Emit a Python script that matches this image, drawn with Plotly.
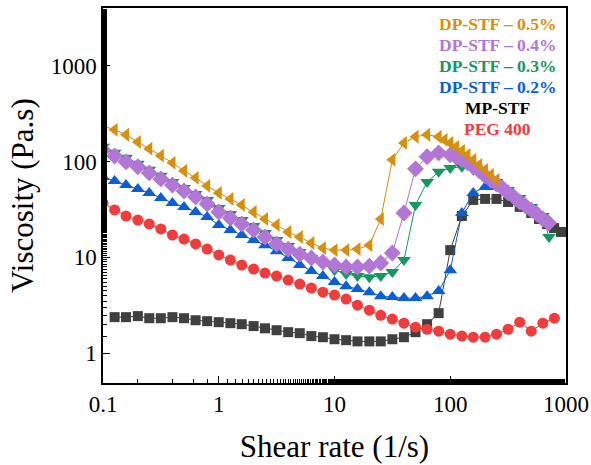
import plotly.graph_objects as go

# Shear rate grid (1/s), 10 points per decade
x_base = [0.1, 0.126, 0.158, 0.2, 0.251, 0.316, 0.398, 0.501, 0.631, 0.794,
          1, 1.26, 1.58, 2.0, 2.51, 3.16, 3.98, 5.01, 6.31, 7.94,
          10, 12.6, 15.8, 20, 25.1, 31.6, 39.8, 50.1, 63.1, 79.4,
          100, 126, 158, 200, 251, 316, 398, 501, 631, 794]

# PEG 400
peg_x = x_base
peg_y = [36.9, 31.2, 27.0, 24.5, 22.3, 19.8, 17.1, 15.5, 13.8, 12.2,
         10.6, 9.37, 8.31, 7.55, 6.85, 6.38, 5.79, 5.26, 4.78, 4.34,
         4.04, 3.67, 3.17, 2.81, 2.49, 2.27, 2.06, 1.87, 1.78, 1.70,
         1.58, 1.51, 1.47, 1.47, 1.58, 1.78, 2.11, 1.70, 2.06, 2.32]

# MP-STF
mp_x = [0.126, 0.158, 0.2, 0.251, 0.316, 0.398, 0.501, 0.631, 0.794,
        1, 1.26, 1.58, 2.0, 2.51, 3.16, 3.98, 5.01, 6.31, 7.94,
        10, 12.6, 15.8, 20, 25.1, 31.6, 39.8, 50.1, 63.1, 79.4,
        100, 126, 158, 200, 251, 316, 398, 501, 585, 686, 789, 906]
mp_y = [2.38, 2.38, 2.44, 2.32, 2.32, 2.38, 2.32, 2.21, 2.16,
        2.11, 2.06, 2.01, 1.92, 1.82, 1.74, 1.66, 1.62, 1.51, 1.47,
        1.40, 1.37, 1.33, 1.33, 1.33, 1.40, 1.47, 1.66, 2.01, 2.62,
        11.9, 27.0, 39.7, 40.7, 40.7, 37.8, 33.6, 29.0, 25.1, 22.3, 20.2, 18.4]

# DP-STF 0.2%
dp2_x = x_base[:36]
dp2_y = [69.0, 62.7, 56.9, 51.7, 47.0, 41.7, 36.9, 33.6, 29.7, 26.4,
         21.8, 19.3, 17.1, 15.2, 13.4, 11.6, 9.84, 8.31, 7.19, 6.38,
         5.52, 5.01, 4.67, 4.34, 3.94, 3.85, 3.76, 3.76, 3.94, 4.45,
         7.36, 29.0, 47.0, 54.3, 54.3, 47.0]

# DP-STF 0.3%
dp3_x = x_base[:39] + [713]
dp3_y = [142, 123, 109, 94.4, 81.7, 70.8, 61.2, 53.0, 45.9, 39.7,
         32.8, 28.3, 24.5, 21.2, 17.9, 15.2, 13.1, 11.4, 9.84, 8.51,
         7.36, 6.69, 6.38, 6.22, 6.38, 7.02, 9.37, 35.2, 61.2, 77.9,
         85.7, 87.9, 81.7, 72.4, 61.2, 50.5, 41.7, 33.6, 27.0, 16.3]

# DP-STF 0.4%
dp4_x = x_base[:31] + [112, 126, 141, 158, 178, 200, 224, 251, 282, 316,
                       355, 398, 447, 501, 562, 631, 708]
dp4_y = [132, 114, 99.1, 87.9, 76.0, 65.8, 56.9, 49.3, 42.7, 36.1,
         29.7, 25.7, 22.3, 19.3, 16.3, 13.8, 12.2, 10.8, 9.84, 8.93,
         8.31, 7.92, 7.92, 8.11, 8.72, 11.1, 29.0, 83.7, 112, 123,
         117, 112, 104, 96.7, 87.9, 79.8, 70.8, 64.2, 58.3, 53.0, 47.0,
         42.7, 37.8, 34.4, 31.2, 28.3, 25.1, 22.8]

# DP-STF 0.5%
dp5_x = x_base[:30] + [89.1, 100, 112, 126, 141, 158, 178, 200, 224, 251]
dp5_y = [235, 214, 190, 160, 136, 115, 96.7, 79.8, 67.5, 55.6,
         47.0, 40.7, 35.2, 29.7, 25.1, 21.8, 18.4, 16.3, 14.1, 12.5,
         11.9, 11.9, 12.2, 13.4, 25.1, 104, 156, 181, 190, 181,
         168, 156, 142, 129, 117, 104, 92.2, 81.7, 72.4, 64.2]

series = [
    ("MP-STF", mp_x, mp_y, "#404040", "square", 10),
    ("PEG 400", peg_x, peg_y, "#F23B3B", "circle", 11),
    ("DP-STF – 0.2%", dp2_x, dp2_y, "#0B5FD6", "triangle-up", 12),
    ("DP-STF – 0.3%", dp3_x, dp3_y, "#12995E", "triangle-down", 12),
    ("DP-STF – 0.4%", dp4_x, dp4_y, "#B276D6", "diamond", 13),
    ("DP-STF – 0.5%", dp5_x, dp5_y, "#D98E0C", "triangle-left", 12),
]

fig = go.Figure()
for name, xs, ys, col, sym, sz in series:
    fig.add_trace(go.Scatter(
        x=xs, y=ys, mode="lines+markers", name=name,
        line=dict(color=col, width=1),
        marker=dict(symbol=sym, size=sz, color=col, line=dict(width=0)),
        showlegend=False,
    ))

legend_items = [
    ("DP-STF – 0.5%", "#D98E0C"),
    ("DP-STF – 0.4%", "#B276D6"),
    ("DP-STF – 0.3%", "#12995E"),
    ("DP-STF – 0.2%", "#0B5FD6"),
    ("MP-STF", "#000000"),
    ("PEG 400", "#F23B3B"),
]
for i, (txt, col) in enumerate(legend_items):
    fig.add_annotation(
        x=0.853, y=0.957 - i * 0.056, xref="paper", yref="paper",
        text="<b>" + txt + "</b>", showarrow=False, xanchor="center", yanchor="middle",
        font=dict(family="Liberation Serif", size=17.5, color=col),
    )

tick_font = dict(family="Liberation Serif", size=23, color="black")
title_font = dict(family="Liberation Serif", size=31, color="black")
fig.update_layout(
    template="none",
    width=591, height=465,
    margin=dict(l=103, r=25, t=8, b=82),
    paper_bgcolor="white", plot_bgcolor="white",
    xaxis=dict(
        type="log", range=[-1, 3], automargin=False,
        tickvals=[0.1, 1, 10, 100, 1000], ticktext=["0.1", "1", "10", "100", "1000"],
        ticks="inside", ticklen=7, tickwidth=1.2, tickcolor="black",
        minor=dict(ticks="inside", ticklen=4, tickwidth=1, tickcolor="black", showgrid=False),
        showline=True, linecolor="black", linewidth=1.5, mirror=True,
        showgrid=False, zeroline=False, tickfont=tick_font,
        title=dict(text="Shear rate (1/s)", font=title_font, standoff=19),
    ),
    yaxis=dict(
        type="log", range=[-0.31, 3.6], automargin=False,
        tickvals=[1, 10, 100, 1000], ticktext=["1", "10", "100", "1000"],
        ticks="inside", ticklen=7, tickwidth=1.2, tickcolor="black",
        minor=dict(ticks="inside", ticklen=4, tickwidth=1, tickcolor="black", showgrid=False),
        showline=True, linecolor="black", linewidth=1.5, mirror=True,
        showgrid=False, zeroline=False, tickfont=tick_font,
        title=dict(text="Viscosity (Pa.s)", font=title_font, standoff=8),
    ),
)

fig.write_html("out.html", config={"displayModeBar": False},
               post_script="document.body.style.margin='0';document.body.style.padding='0';")
